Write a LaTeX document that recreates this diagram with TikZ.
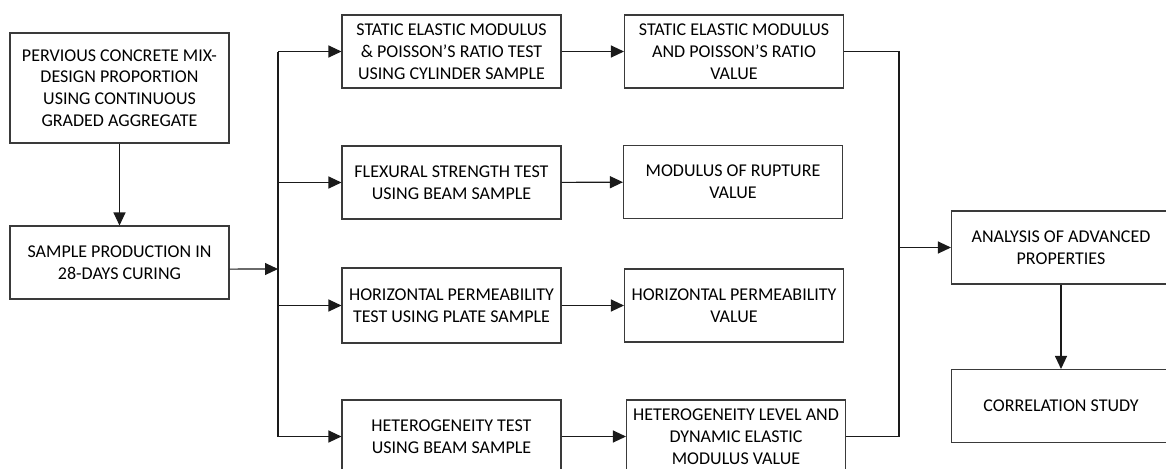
\documentclass[tikz,border=0pt]{standalone}
\usepackage{fontspec}
\setmainfont{Carlito}
\usepackage{tikz}
\usetikzlibrary{arrows.meta,calc,positioning}
\definecolor{Edge}{HTML}{3A3A3A}
\definecolor{Wire}{HTML}{1A1A1A}
\tikzset{
  box/.style={draw=Edge,line width=0.8pt,rectangle,align=center,inner sep=2pt,
    font=\fontsize{13.5}{16.3}\selectfont,minimum width=164.25pt,minimum height=54.75pt},
  arr/.style={draw=Wire,line width=0.8pt,-{Triangle[length=9.75pt,width=9pt]}},
  bus/.style={draw=Wire,line width=1.4pt}
}

\begin{document}
\begin{tikzpicture}[x=0.75pt,y=-0.75pt]
        \clip (0,0) rectangle (1166,468);
        \useasboundingbox (0,0) rectangle (1166,468);
        % preparation
        \node[box,minimum height=82.5pt] (mix) at (119.5,88) {PERVIOUS CONCRETE MIX-\\DESIGN PROPORTION\\USING CONTINUOUS\\GRADED AGGREGATE};
        \node[box] (prod) at (119.5,262.5) {SAMPLE PRODUCTION IN\\28-DAYS CURING};
        % tests
        \node[box] (elt) at (451.5,51.5) {STATIC ELASTIC MODULUS\\\& POISSON’S RATIO TEST\\USING CYLINDER SAMPLE};
        \node[box] (flx) at (451.5,182.5) {FLEXURAL STRENGTH TEST\\USING BEAM SAMPLE};
        \node[box,minimum height=56.25pt] (prm) at (451.5,305.5) {HORIZONTAL PERMEABILITY\\TEST USING PLATE SAMPLE};
        \node[box] (het) at (451.5,436.5) {HETEROGENEITY TEST\\USING BEAM SAMPLE};
        % results
        \node[box] (eltv) at (734,51.5) {STATIC ELASTIC MODULUS\\AND POISSON’S RATIO\\VALUE};
        \node[box] (flxv) at (733,182) {MODULUS OF RUPTURE\\VALUE};
        \node[box] (prmv) at (734,305.5) {HORIZONTAL PERMEABILITY\\VALUE};
        \node[box] (hetv) at (736,436.5) {HETEROGENEITY LEVEL AND\\DYNAMIC ELASTIC\\MODULUS VALUE};
        % analysis
        \node[box] (ana) at (1061,247.5) {ANALYSIS OF ADVANCED\\PROPERTIES};
        \node[box] (cor) at (1061,406) {CORRELATION STUDY};
        \coordinate (busL) at (278,269);
        \coordinate (busR) at (899,247.5);
        % connectors
        \draw[arr] (mix) -- (prod);
        \draw[arr] ([yshift=-4.9pt]prod.east) -- (busL);
        \draw[bus] (busL |- elt.west) -- (busL |- het.west);
        \foreach \t in {elt,flx,prm,het}{
          \draw[arr] (busL |- \t.west) -- (\t);}
        \foreach \t in {elt,flx,prm,het}{
          \draw[arr] (\t) -- (\t v);}
        \draw[bus] (eltv.east) -| (busR) |- (hetv.east);
        \draw[arr] (busR) -- (ana);
        \draw[arr] (ana) -- (cor);
      \end{tikzpicture}
\end{document}
